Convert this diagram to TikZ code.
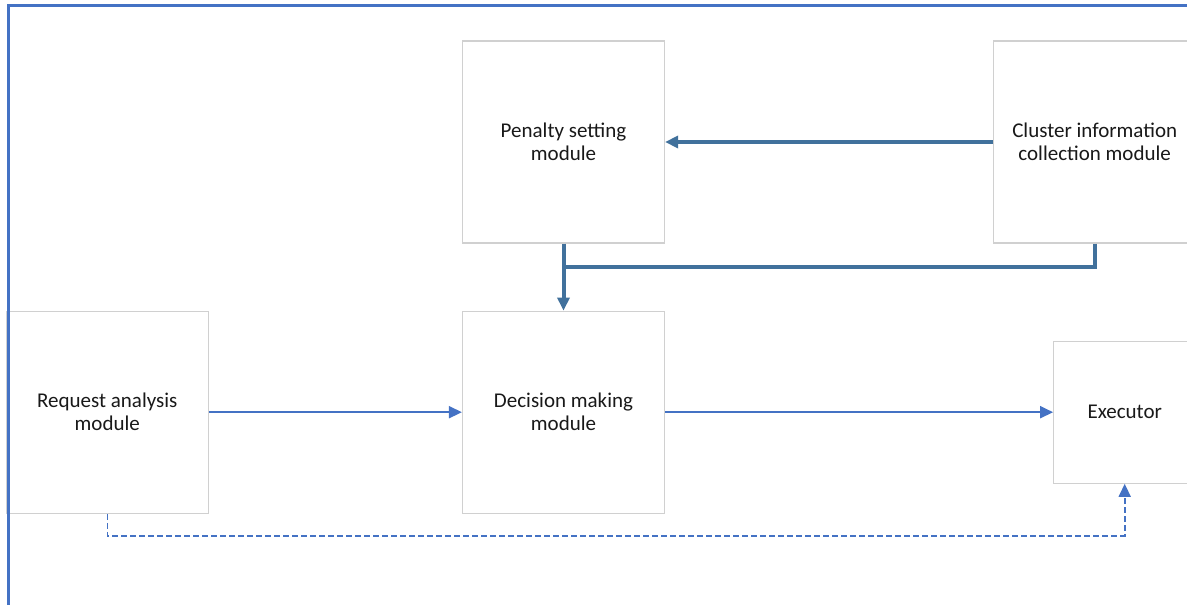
\documentclass[tikz,border=0pt]{standalone}
\usepackage{fontspec}
\setmainfont{Carlito}
\usetikzlibrary{arrows.meta, positioning}
\definecolor{linkblue}{HTML}{4472C4}
\definecolor{darkblue}{HTML}{41719C}
\definecolor{boxgray}{HTML}{D0D0D0}

\begin{document}
\begin{tikzpicture}[
            x = 1pt, y = -1pt, % one unit per pixel
            > = {Triangle[length=13pt, width=12pt]}, % arrow head style
            node distance = 67pt, % distance between nodes
            font = \fontsize{21}{23}\selectfont
        ]

        \tikzstyle{module}=[
            draw = boxgray,
            line width = 1.2pt,
            fill = white,
            text = black!90,
            align = center,
            minimum size = 202pt
        ]
        \tikzstyle{main link}=[->, darkblue, line width = 4pt]
        \tikzstyle{link}=[->, linkblue, line width = 2pt]

        \useasboundingbox (0,0) rectangle (1187,605);

        \node[module] (pen) at (563.5,142) {Penalty setting\\module};
        \node[module] (clu) [right=328pt of pen] {Cluster information\\collection module};
        \node[module] (dec) [below=of pen] {Decision making\\module};
        \node[module] (req) [left=253pt of dec] {Request analysis\\module};
        \node[module, minimum size = 142pt] (exe) [right=388pt of dec] {Executor};

        \coordinate (join) at ([yshift=-23pt]pen.south);
        \coordinate (back) at ([yshift=-22pt]req.south);

        \path[main link] (clu) edge (pen);
        \draw[main link] (pen) -- (dec);
        \draw[darkblue, line width = 4pt] (clu.south) |- (join);
        \path[link] (req) edge (dec);
        \path[link] (dec) edge (exe);
        \draw[link, line width = 1.6pt, dash pattern = on 6pt off 3pt] (req.south) -- (back) -| (exe.south);

        % outer frame
        \draw[linkblue, line width = 2.5pt] (8.5,620) |- (1200,5.5);

  \end{tikzpicture}
\end{document}
